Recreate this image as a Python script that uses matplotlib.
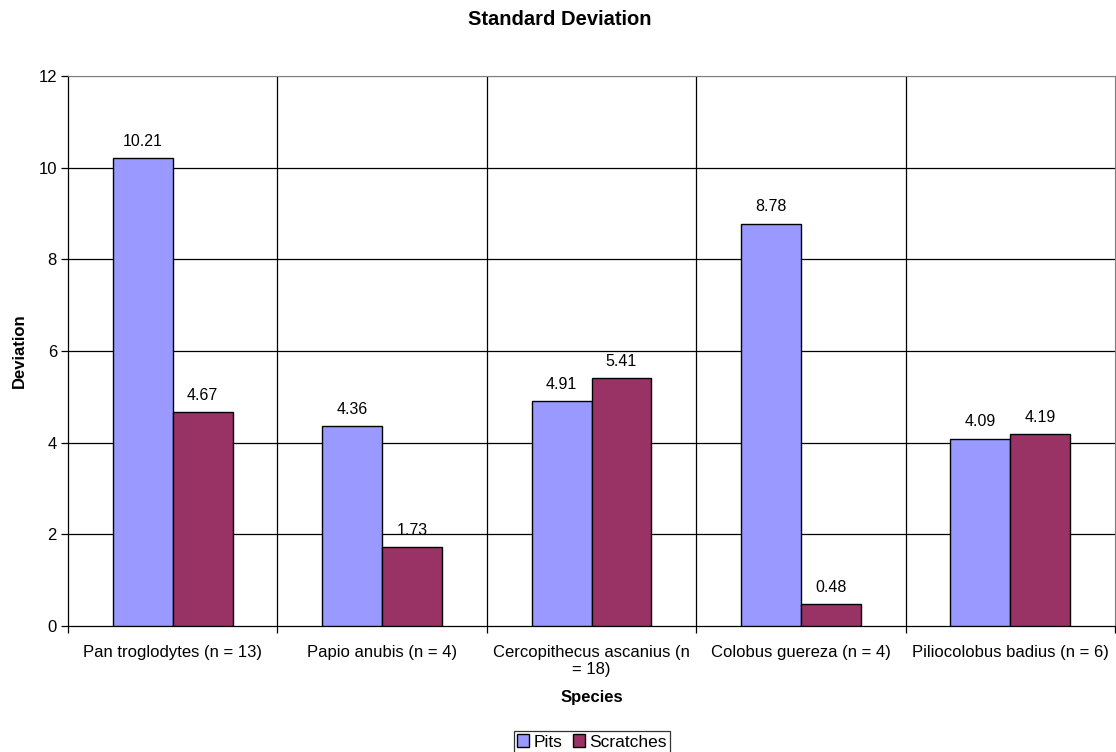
import matplotlib

matplotlib.use("Agg")
import matplotlib.pyplot as plt
import numpy as np

plt.rcParams["font.family"] = ["Liberation Sans", "DejaVu Sans"]

species = [
    "Pan troglodytes (n = 13)",
    "Papio anubis (n = 4)",
    "Cercopithecus ascanius (n\n= 18)",
    "Colobus guereza (n = 4)",
    "Piliocolobus badius (n = 6)",
]
pits = [10.21, 4.36, 4.91, 8.78, 4.09]
scratches = [4.67, 1.73, 5.41, 0.48, 4.19]

fig = plt.figure(figsize=(11.16, 7.52), dpi=100)
ax = fig.add_axes([68 / 1116, 1 - 626 / 752, 1047 / 1116, 550 / 752])

x = np.arange(len(species))
w = 1 / 3.5
b1 = ax.bar(x - w / 2, pits, w, color="#9999FF", edgecolor="black", linewidth=1, label="Pits", zorder=3)
b2 = ax.bar(x + w / 2, scratches, w, color="#993366", edgecolor="black", linewidth=1, label="Scratches", zorder=3)

for bars, vals in ((b1, pits), (b2, scratches)):
    for r, v in zip(bars, vals):
        ax.text(r.get_x() + r.get_width() / 2, v + 0.2, "%.2f" % v, ha="center", va="bottom", fontsize=11.5, zorder=4)

ax.set_xlim(-0.5, len(species) - 0.5)
ax.set_ylim(0, 12)
ax.set_yticks(range(0, 13, 2))
for yv in range(2, 13, 2):
    ax.axhline(yv, color="black" if yv < 12 else "#808080", lw=0.9, zorder=1)
for xb in x[1:] - 0.5:
    ax.axvline(xb, color="black", lw=0.9, zorder=1)

ax.set_xticks(x)
ax.set_xticklabels(species, fontsize=12, linespacing=1.15)
ax.tick_params(axis="x", length=0, pad=13.5)
ax.set_xticks(np.arange(-0.5, len(species)), minor=True)
ax.tick_params(axis="x", which="minor", length=5, width=0.9, color="black")
ax.tick_params(axis="y", length=5, width=0.9, labelsize=12, pad=3)

for s in ("top", "right"):
    ax.spines[s].set_color("#808080")
ax.spines["left"].set_linewidth(0.9)
ax.spines["bottom"].set_linewidth(0.9)

ax.set_xlabel("Species", fontsize=12, fontweight="bold", labelpad=10)
ax.set_ylabel("Deviation", fontsize=12, fontweight="bold", labelpad=8)
fig.suptitle("Standard Deviation", x=560 / 1116, fontsize=14.5, fontweight="bold", y=0.987)

leg = fig.legend(loc="center", bbox_to_anchor=(592 / 1116, 1 - 742 / 752), ncol=2, frameon=True, fancybox=False,
                 fontsize=12.5, handlelength=0.7, handleheight=0.7, handletextpad=0.25, columnspacing=0.6,
                 borderpad=0.2, borderaxespad=0)
leg.get_frame().set_edgecolor("black")
leg.get_frame().set_linewidth(0.9)

fig.savefig("out.png", dpi=100)
